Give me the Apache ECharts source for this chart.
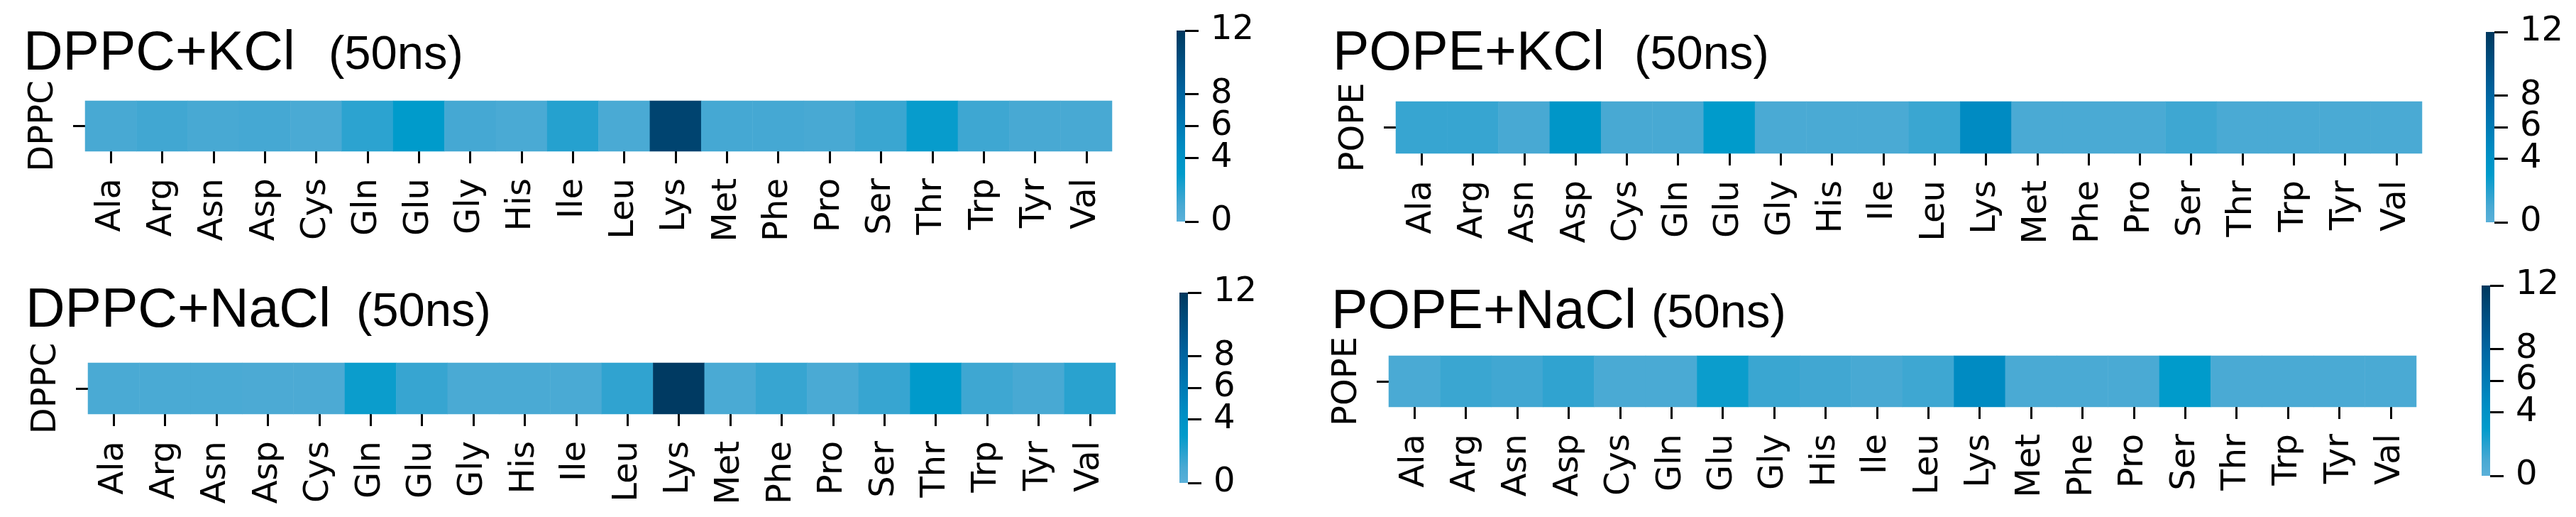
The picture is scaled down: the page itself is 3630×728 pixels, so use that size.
<!DOCTYPE html>
<html>
<head>
<meta charset="utf-8">
<script src="https://cdn.jsdelivr.net/npm/echarts@6/dist/echarts.min.js"></script>
<style>
  html, body { margin: 0; padding: 0; background: #fff; }
  #main { width: 3630px; height: 728px; }
</style>
</head>
<body>
<div id="main"></div>
<script>
// residues on the x axis
var residues = ['Ala', 'Arg', 'Asn', 'Asp', 'Cys', 'Gln', 'Glu', 'Gly', 'His', 'Ile',
  'Leu', 'Lys', 'Met', 'Phe', 'Pro', 'Ser', 'Thr', 'Trp', 'Tyr', 'Val'];

// values
var dppcKcl  = [1.0, 1.2, 1.0, 1.1, 0.9, 1.8, 3.0, 1.1, 0.9, 2.0, 0.9, 11.0, 1.1, 1.1, 1.0, 1.4, 2.8, 1.3, 1.0, 1.0];
var popeKcl  = [1.5, 1.5, 1.0, 3.6, 1.0, 1.0, 3.0, 0.9, 0.9, 0.9, 1.4, 4.6, 0.9, 0.9, 0.9, 1.3, 0.9, 0.9, 0.9, 0.9];
var dppcNacl = [0.9, 0.9, 0.9, 0.8, 0.8, 2.7, 1.5, 0.9, 0.9, 0.9, 1.7, 11.8, 0.9, 1.5, 0.9, 1.5, 3.1, 1.3, 1.0, 1.9];
var popeNacl = [0.9, 1.4, 1.2, 1.7, 0.9, 0.9, 2.7, 1.4, 1.2, 1.0, 1.3, 4.6, 0.9, 0.9, 0.9, 3.0, 0.9, 0.9, 0.9, 0.9];

var panelTitles = ['DPPC+KCl', 'POPE+KCl', 'DPPC+NaCl', 'POPE+NaCl'];
var rowLabels = ['DPPC', 'POPE', 'DPPC', 'POPE'];
var vMin = 0, vMax = 12;

// colour map, low -> high
var cmap = ['#5ab0d9', '#48a9d3', '#25a1cf', '#009bcb', '#0092c6', '#0087bf', '#007bb5',
  '#0070ab', '#0065a1', '#005a92', '#004f82', '#004470', '#00385e'];

var panels = [dppcKcl, popeKcl, dppcNacl, popeNacl];

var grids = [
  { left: 120, top: 142, width: 1447, height: 71 },
  { left: 1967, top: 143, width: 1446, height: 73 },
  { left: 124, top: 511, width: 1448, height: 72 },
  { left: 1957, top: 501, width: 1448, height: 72 }
];
var cbGrids = [
  { left: 1658, top: 43, width: 12, height: 269 },
  { left: 3503, top: 45, width: 12, height: 268 },
  { left: 1662, top: 412, width: 12, height: 268 },
  { left: 3497, top: 402, width: 12, height: 268 }
];
var titlePos = [
  { x: 33, x2: 463, y: 77 },
  { x: 1878, x2: 2303, y: 77 },
  { x: 36, x2: 502, y: 439 },
  { x: 1876, x2: 2327, y: 441 }
];

var labelFont = 'DejaVu Sans';

var grid = [], xAxis = [], yAxis = [], series = [];

panels.forEach(function (vals, i) {
  grid.push(grids[i]);
  xAxis.push({
    type: 'category', gridIndex: i, data: residues,
    axisLine: { show: false },
    axisTick: { show: true, alignWithLabel: true, length: 17, lineStyle: { color: '#000', width: 3 } },
    axisLabel: { rotate: 90, margin: 38, interval: 0, fontSize: 48, fontFamily: labelFont, color: '#000' },
    splitLine: { show: false }
  });
  yAxis.push({
    type: 'category', gridIndex: i, data: [rowLabels[i]],
    axisLine: { show: false },
    axisTick: { show: true, alignWithLabel: true, length: 17, lineStyle: { color: '#000', width: 3 } },
    axisLabel: { rotate: 90, margin: 34, fontSize: 48, fontFamily: labelFont, color: '#000' },
    splitLine: { show: false }
  });
  series.push({
    type: 'heatmap', xAxisIndex: i, yAxisIndex: i,
    data: vals.map(function (v, j) { return [j, 0, v]; }),
    itemStyle: { borderWidth: 0 },
    emphasis: { disabled: true }
  });
});

// colour bars
var stops = cmap.map(function (c, k) {
  return { offset: 1 - k / (cmap.length - 1), color: c };
});
panels.forEach(function (vals, i) {
  var gi = 4 + i;
  grid.push(cbGrids[i]);
  xAxis.push({ type: 'category', gridIndex: gi, data: [''], show: false });
  yAxis.push({
    type: 'value', gridIndex: gi, min: vMin, max: vMax, interval: 2, position: 'right',
    axisLine: { show: false },
    axisTick: { show: true, length: 19, lineStyle: { color: '#000', width: 3 } },
    axisLabel: {
      margin: 36, showMinLabel: true, showMaxLabel: true, hideOverlap: false,
      formatter: '{v|{value}}',
      rich: { v: { fontSize: 48, lineHeight: 34, fontFamily: labelFont, color: '#000' } }
    },
    splitLine: { show: false }
  });
  series.push({
    type: 'bar', xAxisIndex: gi, yAxisIndex: gi, barWidth: '100%',
    data: [vMax], silent: true,
    itemStyle: { color: new echarts.graphic.LinearGradient(0, 0, 0, 1, stops.slice().reverse()) }
  });
});

var myChart = echarts.init(document.getElementById('main'));
myChart.setOption({
  animation: false,
  backgroundColor: '#fff',
  grid: grid,
  xAxis: xAxis,
  yAxis: yAxis,
  visualMap: {
    type: 'continuous', show: false, min: vMin, max: vMax,
    seriesIndex: [0, 1, 2, 3], dimension: 2,
    inRange: { color: cmap }
  },
  series: series
});

// panel titles
var graphic = [];
panelTitles.forEach(function (t, i) {
  graphic.push({
    type: 'text', x: titlePos[i].x, y: titlePos[i].y,
    style: { text: t, fontSize: 77, fontFamily: 'Liberation Sans', fill: '#000',
      verticalAlign: 'middle', textVerticalAlign: 'middle' }
  });
  graphic.push({
    type: 'text', x: titlePos[i].x2, y: titlePos[i].y + 2,
    style: { text: '(50ns)', fontSize: 67, fontFamily: 'Liberation Sans', fill: '#000',
      verticalAlign: 'middle', textVerticalAlign: 'middle' }
  });
});
myChart.setOption({ graphic: graphic });
</script>
</body>
</html>
